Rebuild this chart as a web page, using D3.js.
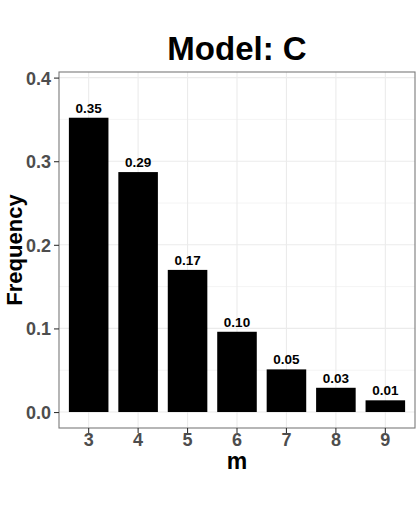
<!DOCTYPE html>
<html>
<head>
<meta charset="utf-8">
<script src="https://cdn.jsdelivr.net/npm/d3@7"></script>
<style>
body{margin:0;background:#fff;}
text{font-family:"Liberation Sans",Arial,sans-serif;font-weight:bold;}
</style>
</head>
<body>
<div id="chart"></div>
<script>
// values
const categories = ["3","4","5","6","7","8","9"];
const freqValues = [0.352, 0.287, 0.170, 0.096, 0.051, 0.029, 0.014];
const barLabels = ["0.35","0.29","0.17","0.10","0.05","0.03","0.01"];
const yTicks = [0, 0.1, 0.2, 0.3, 0.4];
const yMinor = [0.05, 0.15, 0.25, 0.35];

var W = 420, H = 510;
var panel = {left:59, right:415, top:72, bottom:428};

var svg = d3.select("#chart").append("svg")
	.attr("width",W)
	.attr("height",H);

// ggplot style: 0.6 unit expand on each side
var step = (panel.right-panel.left)/(categories.length-1+1.2);
var x = d3.scaleBand()
	.domain(categories)
	.range([panel.left+0.6*step-step/2, panel.right-0.6*step+step/2])
	.paddingInner(0.2)
	.paddingOuter(0.1);

var y = d3.scaleLinear()
	.domain([-0.0191,0.4067])
	.range([panel.bottom,panel.top]);

// minor grid
svg.append("g").selectAll("line").data(yMinor).join("line")
	.attr("x1",panel.left).attr("x2",panel.right)
	.attr("y1",d=>y(d)).attr("y2",d=>y(d))
	.attr("stroke","#f4f4f4").attr("stroke-width",1);
// major grid
svg.append("g").selectAll("line").data(yTicks).join("line")
	.attr("x1",panel.left).attr("x2",panel.right)
	.attr("y1",d=>y(d)).attr("y2",d=>y(d))
	.attr("stroke","#ebebeb").attr("stroke-width",1.1);
svg.append("g").selectAll("line").data(categories).join("line")
	.attr("x1",d=>x(d)+x.bandwidth()/2).attr("x2",d=>x(d)+x.bandwidth()/2)
	.attr("y1",panel.top).attr("y2",panel.bottom)
	.attr("stroke","#ebebeb").attr("stroke-width",1.1);

// bars
svg.append("g").selectAll("rect").data(freqValues).join("rect")
	.attr("x",(d,i)=>x(categories[i]))
	.attr("width",x.bandwidth())
	.attr("y",d=>y(d))
	.attr("height",d=>y(0)-y(d))
	.attr("fill","black");

// value labels
svg.append("g").selectAll("text").data(freqValues).join("text")
	.attr("x",(d,i)=>x(categories[i])+x.bandwidth()/2)
	.attr("y",d=>y(d)-5)
	.attr("text-anchor","middle")
	.style("font-size","13.5px")
	.attr("fill","black")
	.text((d,i)=>barLabels[i]);

// panel border
svg.append("rect")
	.attr("x",panel.left).attr("y",panel.top)
	.attr("width",panel.right-panel.left)
	.attr("height",panel.bottom-panel.top)
	.attr("fill","none")
	.attr("stroke","#7a7a7a")
	.attr("stroke-width",1.1);

// axes
var yAxis = svg.append("g")
	.attr("transform","translate("+panel.left+",0)")
	.call(d3.axisLeft(y).tickValues(yTicks).tickFormat(d3.format(".1f")).tickSize(5).tickPadding(3));
var xAxis = svg.append("g")
	.attr("transform","translate(0,"+panel.bottom+")")
	.call(d3.axisBottom(x).tickSize(5).tickPadding(3));
[yAxis,xAxis].forEach(function(a){
	a.select(".domain").remove();
	a.selectAll(".tick line").attr("stroke","#333").attr("stroke-width",1.1);
	a.selectAll(".tick text")
	 .attr("fill","#4d4d4d")
	 .style("font-size","18px")
	 .style("font-family","'Liberation Sans',Arial,sans-serif")
	 .style("font-weight","bold");
});
yAxis.selectAll(".tick text").attr("dy","0.36em");
xAxis.selectAll(".tick text").attr("dy","0.54em");

// titles
svg.append("text")
	.attr("x",(panel.left+panel.right)/2)
	.attr("y",60)
	.attr("text-anchor","middle")
	.style("font-size","33px")
	.text("Model: C");

svg.append("text")
	.attr("x",(panel.left+panel.right)/2)
	.attr("y",469)
	.attr("text-anchor","middle")
	.style("font-size","23px")
	.text("m");

svg.append("text")
	.attr("transform","translate(22,"+((panel.top+panel.bottom)/2)+") rotate(-90)")
	.attr("text-anchor","middle")
	.style("font-size","22px")
	.text("Frequency");
</script>
</body>
</html>
